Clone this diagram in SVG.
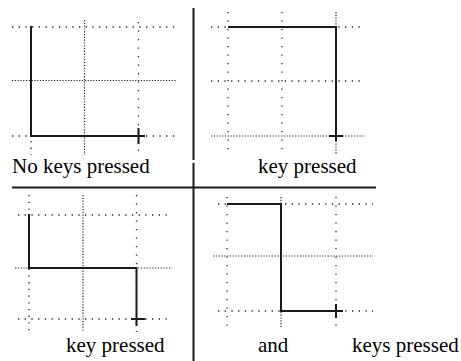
<svg xmlns="http://www.w3.org/2000/svg" width="461" height="361" viewBox="0 0 461 361">
<style>
.bg{fill:#fff}
.solid{stroke:#1a1a1a;stroke-width:2;fill:none}
.div{stroke:#1a1a1a;stroke-width:2;fill:none}
.dense{stroke:#222;stroke-width:1.2;stroke-dasharray:1.2 1.6;fill:none}
.mid{stroke:#222;stroke-width:1.3;stroke-dasharray:1.3 5.4;fill:none}
.sparse{stroke:#222;stroke-width:1.3;stroke-dasharray:1.3 7.2;fill:none}
</style>
<rect class="bg" x="0" y="0" width="461" height="361"/>

<g id="panel-no-keys">
  <line class="mid" x1="12" y1="27" x2="177" y2="27"/>
  <line class="dense" x1="12" y1="80.5" x2="177" y2="80.5"/>
  <line class="mid" x1="12" y1="136" x2="177" y2="136"/>
  <line class="mid" x1="31" y1="27" x2="31" y2="155"/>
  <line class="dense" x1="84.5" y1="20" x2="84.5" y2="155"/>
  <line class="sparse" x1="138.5" y1="22" x2="138.5" y2="155"/>
  <polyline class="solid" points="31,26 31,136 145,136"/>
  <line class="solid" x1="138.5" y1="128" x2="138.5" y2="144"/>
  <text x="12" y="173" font-family="Liberation Serif, Tinos, DejaVu Serif, Times New Roman, serif" font-size="21" fill="#000">No keys pressed</text>
</g>

<g id="panel-key-1">
  <line class="mid" x1="211" y1="27" x2="360" y2="27"/>
  <line class="mid" x1="211" y1="81" x2="360" y2="81"/>
  <line class="dense" x1="211" y1="136" x2="364" y2="136"/>
  <line class="sparse" x1="228" y1="12" x2="228" y2="152"/>
  <line class="sparse" x1="282" y1="12" x2="282" y2="152"/>
  <line class="dense" x1="336" y1="12" x2="336" y2="155"/>
  <polyline class="solid" points="228,27 336,27 336,141"/>
  <line class="solid" x1="329" y1="136" x2="343" y2="136"/>
  <text x="258" y="173" font-family="Liberation Serif, Tinos, DejaVu Serif, Times New Roman, serif" font-size="21" fill="#000">key pressed</text>
</g>

<g id="panel-key-2">
  <line class="mid" x1="18" y1="215" x2="168" y2="215"/>
  <line class="dense" x1="15" y1="268" x2="172" y2="268"/>
  <line class="mid" x1="18" y1="319" x2="168" y2="319"/>
  <line class="mid" x1="29" y1="195" x2="29" y2="332"/>
  <line class="dense" x1="83" y1="195" x2="83" y2="332"/>
  <line class="sparse" x1="136.5" y1="195" x2="136.5" y2="332"/>
  <polyline class="solid" points="29,214 29,268 136.5,268 136.5,326"/>
  <line class="solid" x1="131" y1="319" x2="145" y2="319"/>
  <text x="66" y="352" font-family="Liberation Serif, Tinos, DejaVu Serif, Times New Roman, serif" font-size="21" fill="#000">key pressed</text>
</g>

<g id="panel-keys-3">
  <line class="mid" x1="218" y1="204" x2="373" y2="204"/>
  <line class="dense" x1="213" y1="256" x2="373" y2="256"/>
  <line class="mid" x1="218" y1="311" x2="373" y2="311"/>
  <line class="sparse" x1="227" y1="197" x2="227" y2="328"/>
  <line class="dense" x1="281" y1="197" x2="281" y2="328"/>
  <line class="sparse" x1="336" y1="197" x2="336" y2="328"/>
  <polyline class="solid" points="227,204 281,204 281,311 343,311"/>
  <line class="solid" x1="336" y1="304" x2="336" y2="318"/>
  <text x="258" y="352" font-family="Liberation Serif, Tinos, DejaVu Serif, Times New Roman, serif" font-size="21" fill="#000">and</text>
  <text x="352" y="352" font-family="Liberation Serif, Tinos, DejaVu Serif, Times New Roman, serif" font-size="21" fill="#000">keys pressed</text>
</g>

<g id="dividers">
  <line class="div" x1="193.5" y1="8" x2="193.5" y2="160"/>
  <line class="div" x1="193.5" y1="163" x2="193.5" y2="361"/>
  <line class="div" x1="12" y1="187.5" x2="376" y2="187.5"/>
</g>
</svg>
